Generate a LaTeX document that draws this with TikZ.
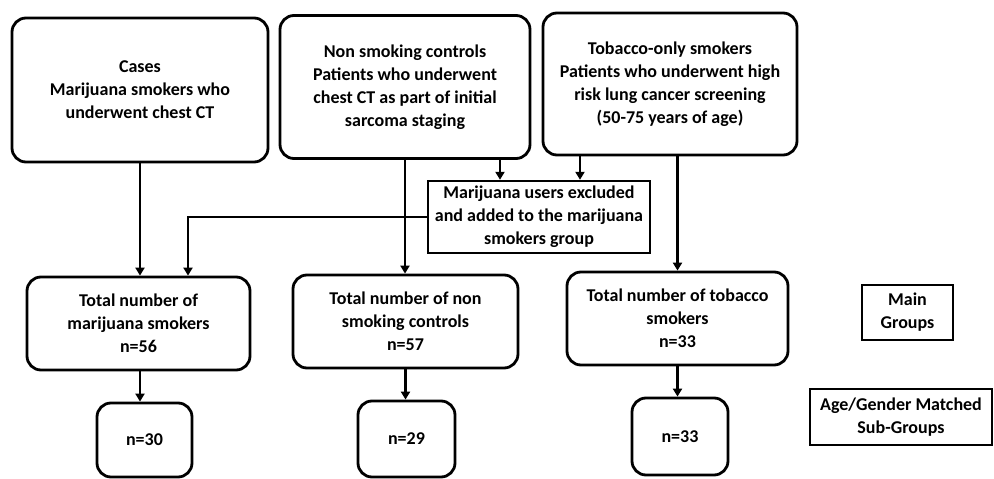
\documentclass[tikz,border=0pt]{standalone}
\usepackage{fontspec}
\setmainfont{Carlito}
\usetikzlibrary{arrows.meta}
\begin{document}
\begin{tikzpicture}[x=1pt,y=-1pt,
  rbox/.style={draw, line width=2.8pt, rounded corners=14pt, align=center,
    font=\bfseries\fontsize{18}{23}\selectfont, inner sep=0pt},
  sbox/.style={draw, line width=2.4pt, align=center,
    font=\bfseries\fontsize{18}{23}\selectfont, inner sep=0pt},
  arr/.style={line width=2.6pt, -{Triangle[width=9pt,length=8pt]}}]
\useasboundingbox (0,0) rectangle (994,479);
\node[rbox, minimum width=256pt, minimum height=144pt] (cases) at (140,90)
  {Cases\\Marijuana smokers who\\underwent chest CT};
\node[rbox, minimum width=250pt, minimum height=143pt] (nonsmk) at (405,87)
  {Non smoking controls\\Patients who underwent\\chest CT as part of initial\\sarcoma staging};
\node[rbox, minimum width=254pt, minimum height=142pt] (tob) at (670,84)
  {Tobacco-only smokers\\Patients who underwent high\\risk lung cancer screening\\(50-75 years of age)};
\node[sbox, minimum width=222pt, minimum height=72pt] (excl) at (539,217)
  {Marijuana users excluded\\and added to the marijuana\\smokers group};
\node[rbox, minimum width=223pt, minimum height=93pt] (totm) at (138.5,323.5)
  {Total number of\\marijuana smokers\\n=56};
\node[rbox, minimum width=225pt, minimum height=93pt] (totn) at (405.5,321.5)
  {Total number of non\\smoking controls\\n=57};
\node[rbox, minimum width=221pt, minimum height=93pt] (tott) at (677.5,318.5)
  {Total number of tobacco\\smokers\\n=33};
\node[rbox, minimum width=95pt, minimum height=74pt] (n30) at (144.5,440) {n=30};
\node[rbox, minimum width=97pt, minimum height=76pt] (n29) at (406.5,439) {n=29};
\node[rbox, minimum width=96pt, minimum height=77pt] (n33) at (680,436.5) {n=33};
\node[sbox, minimum width=91pt, minimum height=55pt] (main) at (907.5,312.5) {Main\\Groups};
\node[sbox, minimum width=182pt, minimum height=56pt] (age) at (901,417) {Age/Gender Matched\\Sub-Groups};
% connectors
\draw[arr] (cases.south) -- (cases.south |- totm.north);
\draw[arr] (nonsmk.south) -- (nonsmk.south |- totn.north);
\draw[arr] (tott.north |- tob.south) -- (tott.north);
\draw[arr] ([xshift=95pt]nonsmk.south) -- ([xshift=95pt]nonsmk.south |- excl.north);
\draw[arr] ([xshift=-90pt]tob.south) -- ([xshift=-90pt]tob.south |- excl.north);
\draw[arr] (excl.west) -| ([xshift=49.5pt]totm.north);
\draw[arr] ([xshift=1.5pt]totm.south) -- ([xshift=1.5pt]totm.south |- n30.north);
\draw[arr] (totn.south) -- (totn.south |- n29.north);
\draw[arr] (tott.south) -- (tott.south |- n33.north);
\end{tikzpicture}
\end{document}
